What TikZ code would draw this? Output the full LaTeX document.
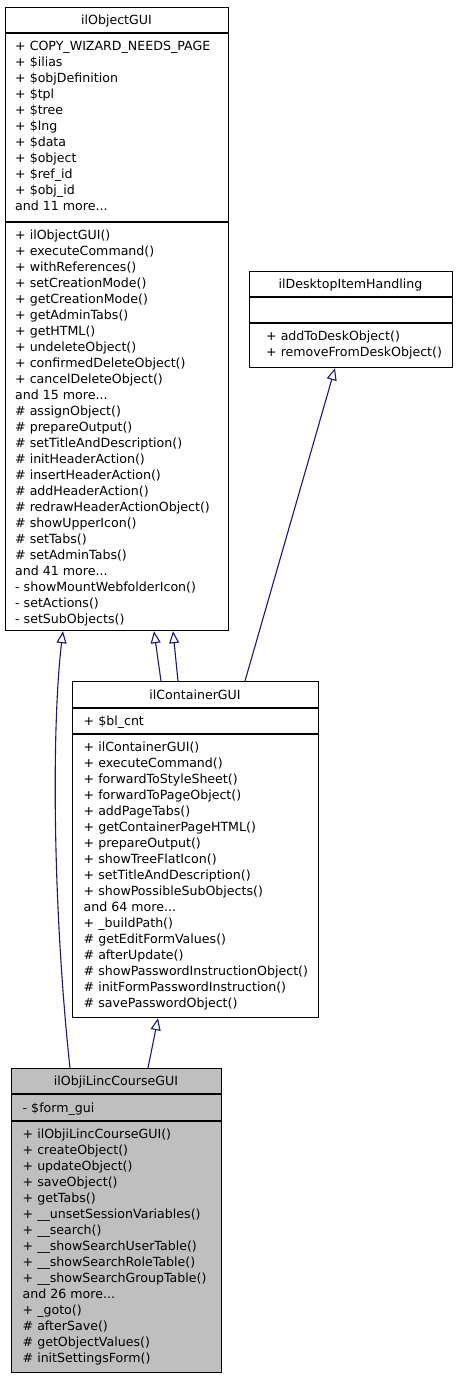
\documentclass[tikz,border=0pt]{standalone}
\usepackage{fontspec}
\setmainfont{DejaVu Sans}
\usetikzlibrary{arrows.meta}
\definecolor{edgeblue}{HTML}{191970}
\definecolor{focusgray}{HTML}{BFBFBF}
\tikzset{
  classbox/.style={draw=black, line width=1.2pt, fill=white, inner sep=0pt, anchor=north west},
  sepline/.style={draw=black, line width=1.2pt},
  txt/.style={inner sep=0pt, anchor=north west, yshift=11.2pt, align=left, font=\fontsize{12.6}{16}\selectfont, execute at begin node=\strut},
  ttl/.style={inner sep=0pt, anchor=base, font=\fontsize{12.6}{16}\selectfont},
  inherit/.style={draw=edgeblue, line width=1.1pt, -{Triangle[open, length=12pt, width=10pt]}},
}
\begin{document}
\begin{tikzpicture}[x=1pt,y=-1pt]
\useasboundingbox (0,0) rectangle (456,1379);
% ilObjectGUI
\node[classbox, minimum width=223, minimum height=623] (objgui) at (5,7) {};
\draw[sepline] (5,33) -- (228,33);
\draw[sepline] (5,222) -- (228,222);
\node[ttl] (objguit) at (116.5,24.5) {ilObjectGUI};
\node[txt] (objgua) at (15,52) {+ COPY\_WIZARD\_NEEDS\_PAGE\\+ \$ilias\\+ \$objDefinition\\+ \$tpl\\+ \$tree\\+ \$lng\\+ \$data\\+ \$object\\+ \$ref\_id\\+ \$obj\_id\\and 11 more...};
\node[txt] (objgum) at (15,241) {+ ilObjectGUI()\\+ executeCommand()\\+ withReferences()\\+ setCreationMode()\\+ getCreationMode()\\+ getAdminTabs()\\+ getHTML()\\+ undeleteObject()\\+ confirmedDeleteObject()\\+ cancelDeleteObject()\\and 15 more...\\\# assignObject()\\\# prepareOutput()\\\# setTitleAndDescription()\\\# initHeaderAction()\\\# insertHeaderAction()\\\# addHeaderAction()\\\# redrawHeaderActionObject()\\\# showUpperIcon()\\\# setTabs()\\\# setAdminTabs()\\and 41 more...\\- showMountWebfolderIcon()\\- setActions()\\- setSubObjects()};
% ilDesktopItemHandling
\node[classbox, minimum width=203, minimum height=96] (desk) at (249,271) {};
\draw[sepline] (249,297) -- (452,297);
\draw[sepline] (249,323) -- (452,323);
\node[ttl] (deskt) at (350.5,288.5) {ilDesktopItemHandling};
\node[txt] (deskm) at (266,341.5) {+ addToDeskObject()\\+ removeFromDeskObject()};
% ilContainerGUI
\node[classbox, minimum width=246, minimum height=336] (cont) at (72,681) {};
\draw[sepline] (72,708) -- (318,708);
\draw[sepline] (72,734) -- (318,734);
\node[ttl] (contt) at (195,699) {ilContainerGUI};
\node[txt] (conta) at (83.5,725.5) {+ \$bl\_cnt};
\node[txt] (contm) at (83.5,752.5) {+ ilContainerGUI()\\+ executeCommand()\\+ forwardToStyleSheet()\\+ forwardToPageObject()\\+ addPageTabs()\\+ getContainerPageHTML()\\+ prepareOutput()\\+ showTreeFlatIcon()\\+ setTitleAndDescription()\\+ showPossibleSubObjects()\\and 64 more...\\+ \_buildPath()\\\# getEditFormValues()\\\# afterUpdate()\\\# showPasswordInstructionObject()\\\# initFormPasswordInstruction()\\\# savePasswordObject()};
% ilObjiLincCourseGUI
\node[classbox, fill=focusgray, minimum width=210, minimum height=304] (lin) at (11,1068) {};
\draw[sepline] (11,1094) -- (221,1094);
\draw[sepline] (11,1121) -- (221,1121);
\node[ttl] (lint) at (116,1085.5) {ilObjiLincCourseGUI};
\node[txt] (lina) at (22.5,1112.5) {- \$form\_gui};
\node[txt] (linm) at (22.5,1139.5) {+ ilObjiLincCourseGUI()\\+ createObject()\\+ updateObject()\\+ saveObject()\\+ getTabs()\\+ \_\_unsetSessionVariables()\\+ \_\_search()\\+ \_\_showSearchUserTable()\\+ \_\_showSearchRoleTable()\\+ \_\_showSearchGroupTable()\\and 26 more...\\+ \_goto()\\\# afterSave()\\\# getObjectValues()\\\# initSettingsForm()};
% inheritance edges
\draw[inherit] ([xshift=59pt]lin.north west) .. controls ([xshift=41pt,yshift=168pt]lin.north west) and ([xshift=47pt,yshift=-90pt]objgui.south west) .. ([xshift=58pt]objgui.south west);
\draw[inherit] ([xshift=89pt]cont.north west) -- ([xshift=149pt]objgui.south west);
\draw[inherit] ([xshift=106pt]cont.north west) -- ([xshift=168pt]objgui.south west);
\draw[inherit] ([xshift=173pt]cont.north west) -- ([xshift=86pt]desk.south west);
\draw[inherit] ([xshift=137pt]lin.north west) -- ([xshift=86pt]cont.south west);
\end{tikzpicture}
\end{document}
